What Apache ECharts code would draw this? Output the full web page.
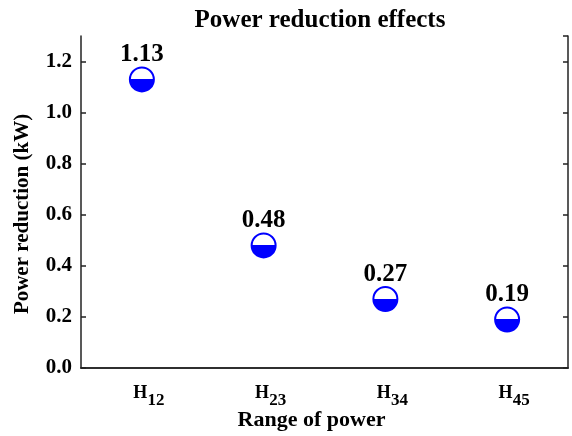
<!DOCTYPE html>
<html>
<head>
<meta charset="utf-8">
<script src="https://cdn.jsdelivr.net/npm/echarts@6/dist/echarts.min.js"></script>
<style>
  html, body { margin: 0; padding: 0; background: #fff; }
  #chart { width: 572px; height: 436px; }
</style>
</head>
<body>
<div id="chart"></div>
<script>
// data
var categories = ['12', '23', '34', '45'];   // subscripts of H
var reductions = [1.13, 0.48, 0.27, 0.19];    // kW
var yTicks = [0, 0.2, 0.4, 0.6, 0.8, 1.0, 1.2];

var FONT = '"Liberation Serif", "Times New Roman", serif';
var BLUE = '#0000ff';
var AXIS = '#222';

var chart = echarts.init(document.getElementById('chart'));

var halfFill = new echarts.graphic.LinearGradient(0, 0, 0, 1, [
  {offset: 0, color: '#fff'},
  {offset: 0.5, color: '#fff'},
  {offset: 0.5, color: BLUE},
  {offset: 1, color: BLUE}
]);

var option = {
  backgroundColor: '#fff',
  animation: false,
  title: {
    text: 'Power reduction effects',
    left: 315,
    textAlign: 'center',
    top: 3,
    textStyle: {fontFamily: FONT, fontWeight: 'bold', fontSize: 25, color: '#000'}
  },
  grid: {left: 81, right: 4, top: 36, bottom: 68, outerBoundsMode: 'none'},
  xAxis: [{
    type: 'category',
    data: categories,
    name: 'Range of power',
    nameLocation: 'middle',
    nameGap: 41,
    nameMoveOverlap: false,
    nameTextStyle: {fontFamily: FONT, fontWeight: 'bold', fontSize: 22, color: '#000', padding: [0, 26, 0, 0]},
    axisLine: {lineStyle: {color: AXIS, width: 1.5}},
    axisTick: {inside: true, alignWithLabel: true, length: 5, lineStyle: {color: AXIS, width: 1.5}},
    axisLabel: {
      margin: 10,
      formatter: function (v) { return '{h|H}{s|' + v + '}'; },
      rich: {
        h: {fontFamily: FONT, fontWeight: 'bold', fontSize: 18, color: '#000', padding: [0, 0, 0, 14]},
        s: {fontFamily: FONT, fontWeight: 'bold', fontSize: 17, color: '#000', padding: [14, 0, 0, 0]}
      }
    },
    splitLine: {show: false}
  }, {
    type: 'category',
    data: categories,
    position: 'top',
    axisLine: {lineStyle: {color: AXIS, width: 1.5}},
    axisTick: {inside: true, alignWithLabel: true, length: 5, lineStyle: {color: AXIS, width: 1.5}},
    axisLabel: {show: false},
    splitLine: {show: false}
  }],
  yAxis: [{
    type: 'value',
    min: 0,
    max: 1.3,
    interval: 0.2,
    name: 'Power reduction (kW)',
    nameLocation: 'middle',
    nameGap: 48,
    nameMoveOverlap: false,
    nameTextStyle: {fontFamily: FONT, fontWeight: 'bold', fontSize: 21, color: '#000', padding: [0, 24, 0, 0]},
    axisLine: {show: true, lineStyle: {color: AXIS, width: 1.5}},
    axisTick: {show: true, inside: true, length: 5, lineStyle: {color: AXIS, width: 1.5}},
    axisLabel: {
      margin: 9,
      showMaxLabel: false,
      fontFamily: FONT, fontWeight: 'bold', fontSize: 21, color: '#000',
      formatter: function (v) { return yTicks.indexOf(Math.round(v * 10) / 10) >= 0 ? v.toFixed(1) : ''; }
    },
    splitLine: {show: false}
  }, {
    type: 'value',
    min: 0,
    max: 1.3,
    interval: 0.2,
    position: 'right',
    axisLine: {show: true, lineStyle: {color: AXIS, width: 1.5}},
    axisTick: {show: true, inside: true, length: 5, lineStyle: {color: AXIS, width: 1.5}},
    axisLabel: {show: false},
    splitLine: {show: false}
  }],
  series: [{
    type: 'scatter',
    data: reductions,
    symbol: 'circle',
    symbolSize: 24,
    itemStyle: {color: halfFill, borderColor: BLUE, borderWidth: 2, opacity: 1},
    label: {
      show: true,
      position: 'top',
      distance: -1,
      formatter: function (p) { return p.value.toFixed(2); },
      fontFamily: FONT, fontWeight: 'bold', fontSize: 25, color: '#000'
    }
  }]
};

chart.setOption(option);
</script>
</body>
</html>
